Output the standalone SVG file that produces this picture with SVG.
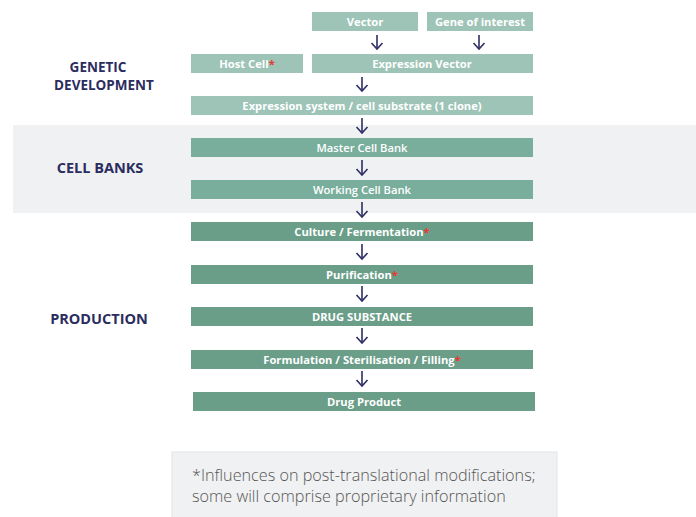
<svg xmlns="http://www.w3.org/2000/svg" width="696" height="517" viewBox="0 0 696 517">
<defs>
<style>
.g{fill:#9dc4b6}
.c{fill:#79ae9c}
.p{fill:#6a9e88}
.t{font-family:"Open Sans","DejaVu Sans",sans-serif;font-weight:bold;font-size:11.2px;fill:#ffffff;text-anchor:middle}
.r{fill:#e53935}
.h{font-family:"Open Sans","DejaVu Sans",sans-serif;font-weight:bold;font-size:14.5px;fill:#2b2d5e;text-anchor:middle}
.a{stroke:#2e2f63;stroke-width:1.6;fill:none}
.f{font-family:"Open Sans","DejaVu Sans",sans-serif;font-size:16.2px;fill:#555555;font-weight:300}
</style>
<marker id="ah" markerWidth="10" markerHeight="14" refX="8" refY="7" orient="auto" markerUnits="userSpaceOnUse" viewBox="0 0 10 14">
<path d="M2,1.5 L8,7 L2,12.5" fill="none" stroke="#2e2f63" stroke-width="1.6"/>
</marker>
</defs>
<rect x="0" y="0" width="696" height="517" fill="#ffffff"/>
<rect x="13" y="125" width="683" height="88" fill="#f0f1f2"/>
<g id="labels">
<text class="h" x="98" y="72" style="font-size:13.5px">GENETIC</text>
<text class="h" x="104" y="90" style="font-size:13.5px">DEVELOPMENT</text>
<text class="h" x="100" y="173">CELL BANKS</text>
<text class="h" x="99" y="324">PRODUCTION</text>
</g>
<g id="connectors">
<line class="a" x1="377" y1="35" x2="377" y2="49" marker-end="url(#ah)"/>
<line class="a" x1="479" y1="35" x2="479" y2="49" marker-end="url(#ah)"/>
<line class="a" x1="362" y1="77" x2="362" y2="91" marker-end="url(#ah)"/>
<line class="a" x1="362" y1="118" x2="362" y2="133" marker-end="url(#ah)"/>
<line class="a" x1="362" y1="160" x2="362" y2="175" marker-end="url(#ah)"/>
<line class="a" x1="362" y1="202" x2="362" y2="217" marker-end="url(#ah)"/>
<line class="a" x1="362" y1="244" x2="362" y2="259" marker-end="url(#ah)"/>
<line class="a" x1="362" y1="286" x2="362" y2="301" marker-end="url(#ah)"/>
<line class="a" x1="362" y1="328" x2="362" y2="343" marker-end="url(#ah)"/>
<line class="a" x1="362" y1="371" x2="362" y2="386" marker-end="url(#ah)"/>
</g>
<g id="vector"><rect class="g" x="312" y="12" width="106" height="19"/><text class="t" x="365" y="25.5">Vector</text></g>
<g id="gene"><rect class="g" x="427" y="12" width="106" height="19"/><text class="t" x="480" y="25.5">Gene of interest</text></g>
<g id="host"><rect class="g" x="191" y="54" width="112" height="19"/><text class="t" x="247" y="67.5">Host Cell<tspan class="r">*</tspan></text></g>
<g id="expvec"><rect class="g" x="312" y="54" width="221" height="19"/><text class="t" x="422" y="67.5">Expression Vector</text></g>
<g id="expsys"><rect class="g" x="191" y="96" width="342" height="19"/><text class="t" x="362" y="109.5">Expression system / cell substrate (1 clone)</text></g>
<g id="mcb"><rect class="c" x="191" y="138" width="342" height="19"/><text class="t" x="362" y="151.5" style="font-weight:600">Master Cell Bank</text></g>
<g id="wcb"><rect class="c" x="191" y="180" width="342" height="19"/><text class="t" x="362" y="193.5" style="font-weight:600">Working Cell Bank</text></g>
<g id="culture"><rect class="p" x="191" y="222" width="342" height="19"/><text class="t" x="362" y="235.5">Culture / Fermentation<tspan class="r">*</tspan></text></g>
<g id="purif"><rect class="p" x="191" y="265" width="342" height="19"/><text class="t" x="362" y="278.5">Purification<tspan class="r">*</tspan></text></g>
<g id="ds"><rect class="p" x="191" y="307" width="342" height="19"/><text class="t" x="362" y="320.5">DRUG SUBSTANCE</text></g>
<g id="form"><rect class="p" x="191" y="350" width="342" height="19"/><text class="t" x="362" y="363.5">Formulation / Sterilisation / Filling<tspan class="r">*</tspan></text></g>
<g id="dp"><rect class="p" x="193" y="392" width="342" height="19"/><text class="t" x="364" y="405.5">Drug Product</text></g>
<g id="footnote">
<rect x="172" y="452" width="385" height="70" fill="#f0f1f2" stroke="#e2e4e6" stroke-width="1"/>
<text class="f" x="192" y="481">*Influences on post-translational modifications;</text>
<text class="f" x="192" y="502">some will comprise proprietary information</text>
</g>
</svg>
